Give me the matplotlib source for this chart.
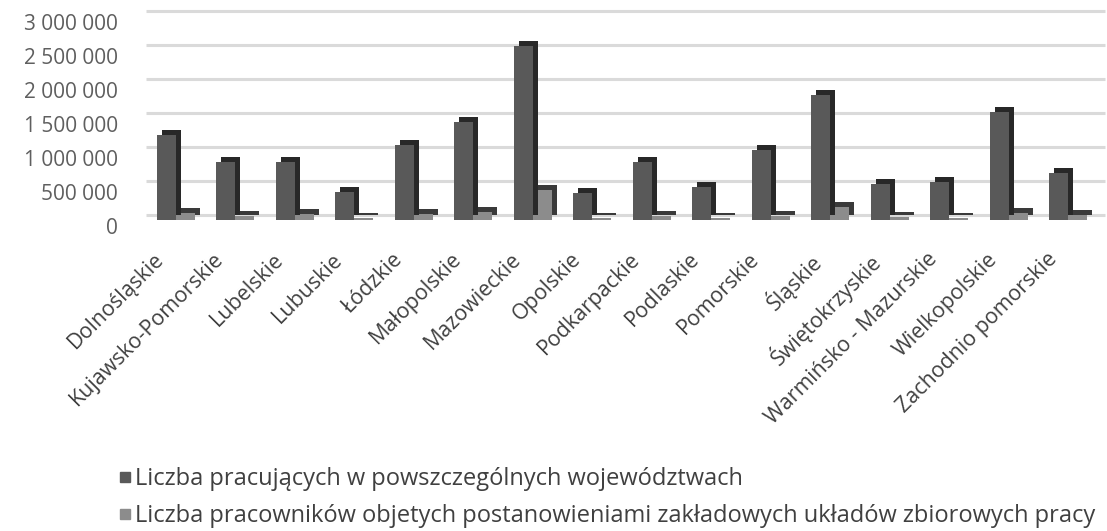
import matplotlib.pyplot as plt
import matplotlib.transforms as mtransforms
from matplotlib.lines import Line2D
import numpy as np

plt.rcParams['font.family'] = ['Open Sans', 'DejaVu Sans']

wojewodztwa = ['Dolnośląskie', 'Kujawsko-Pomorskie', 'Lubelskie', 'Lubuskie',
               'Łódzkie', 'Małopolskie', 'Mazowieckie', 'Opolskie',
               'Podkarpackie', 'Podlaskie', 'Pomorskie', 'Śląskie',
               'Świętokrzyskie', 'Warmińsko - Mazurskie', 'Wielkopolskie',
               'Zachodnio pomorskie']
pracujacy = [1240000, 850000, 850000, 410000, 1100000, 1430000, 2560000, 390000,
             850000, 480000, 1030000, 1830000, 530000, 560000, 1580000, 690000]
objeci_ukladami = [100000, 50000, 80000, 30000, 80000, 120000, 440000, 30000,
                   60000, 30000, 60000, 190000, 40000, 30000, 100000, 70000]
y_ticks = [0, 500000, 1000000, 1500000, 2000000, 2500000, 3000000]
legenda = ['Liczba pracujących w powszczególnych województwach',
           'Liczba pracowników objetych postanowieniami zakładowych układów zbiorowych pracy']

front_colors = ['#595959', '#8c8c8c']
side_colors = ['#282828', '#3a3a3a']

fig = plt.figure(figsize=(11.07, 5.31), dpi=100)
ax = fig.add_axes([0.1319, 0.5763, 0.8663, 0.4036])

x = np.arange(len(wojewodztwa))
w = 0.32
# pseudo-3D: front face pushed down, depth face shifted right
front = mtransforms.offset_copy(ax.transData, fig=fig, x=0, y=-5, units='dots')
depth = mtransforms.offset_copy(ax.transData, fig=fig, x=5, y=0, units='dots')

series = [pracujacy, objeci_ukladami]
offsets = [-w / 2, w / 2]
for k in (1, 0):
    z = 2 + (1 - k) * 2
    ax.bar(x + offsets[k], series[k], w, color=side_colors[k], transform=depth,
           zorder=z)
    ax.bar(x + offsets[k], series[k], w, color=front_colors[k], transform=front,
           zorder=z + 1)

ax.set_xlim(-0.5, 15.62)
ax.set_ylim(-150000, 3000000)
ax.set_yticks([])
ax.set_xticks([])
# back-wall gridlines
ax.hlines(y_ticks, 0, 1, transform=ax.get_yaxis_transform(), colors='#dadada',
          lw=2.2, zorder=1, clip_on=False)
for s in ax.spines.values():
    s.set_visible(False)

# y labels sit a bit below their gridlines
ylab_tr = ax.get_yaxis_transform() + mtransforms.ScaledTranslation(-0.28, -0.14, fig.dpi_scale_trans)
for v in y_ticks:
    ax.text(0, v, f'{v:,}'.replace(',', ' '), transform=ylab_tr, ha='right',
            va='center', fontsize=15, color='#5f5f5f')

xlab_tr = ax.transData + mtransforms.ScaledTranslation(-0.22, -0.34, fig.dpi_scale_trans)
for xi, name in zip(x, wojewodztwa):
    ax.text(xi, 0, name, transform=xlab_tr, rotation=45, rotation_mode='anchor',
            ha='right', va='top', fontsize=15.4, color='#404040')

handles = [Line2D([], [], ls='', marker='s', ms=6.5, color=c) for c in front_colors]
fig.legend(handles, legenda, loc='upper left', bbox_to_anchor=(0.108, 0.12),
           frameon=False, fontsize=17, labelcolor='#404040', handlelength=0.45,
           handletextpad=0.2, labelspacing=0.55, borderaxespad=0, borderpad=0)

fig.savefig('out.png', dpi=100)
